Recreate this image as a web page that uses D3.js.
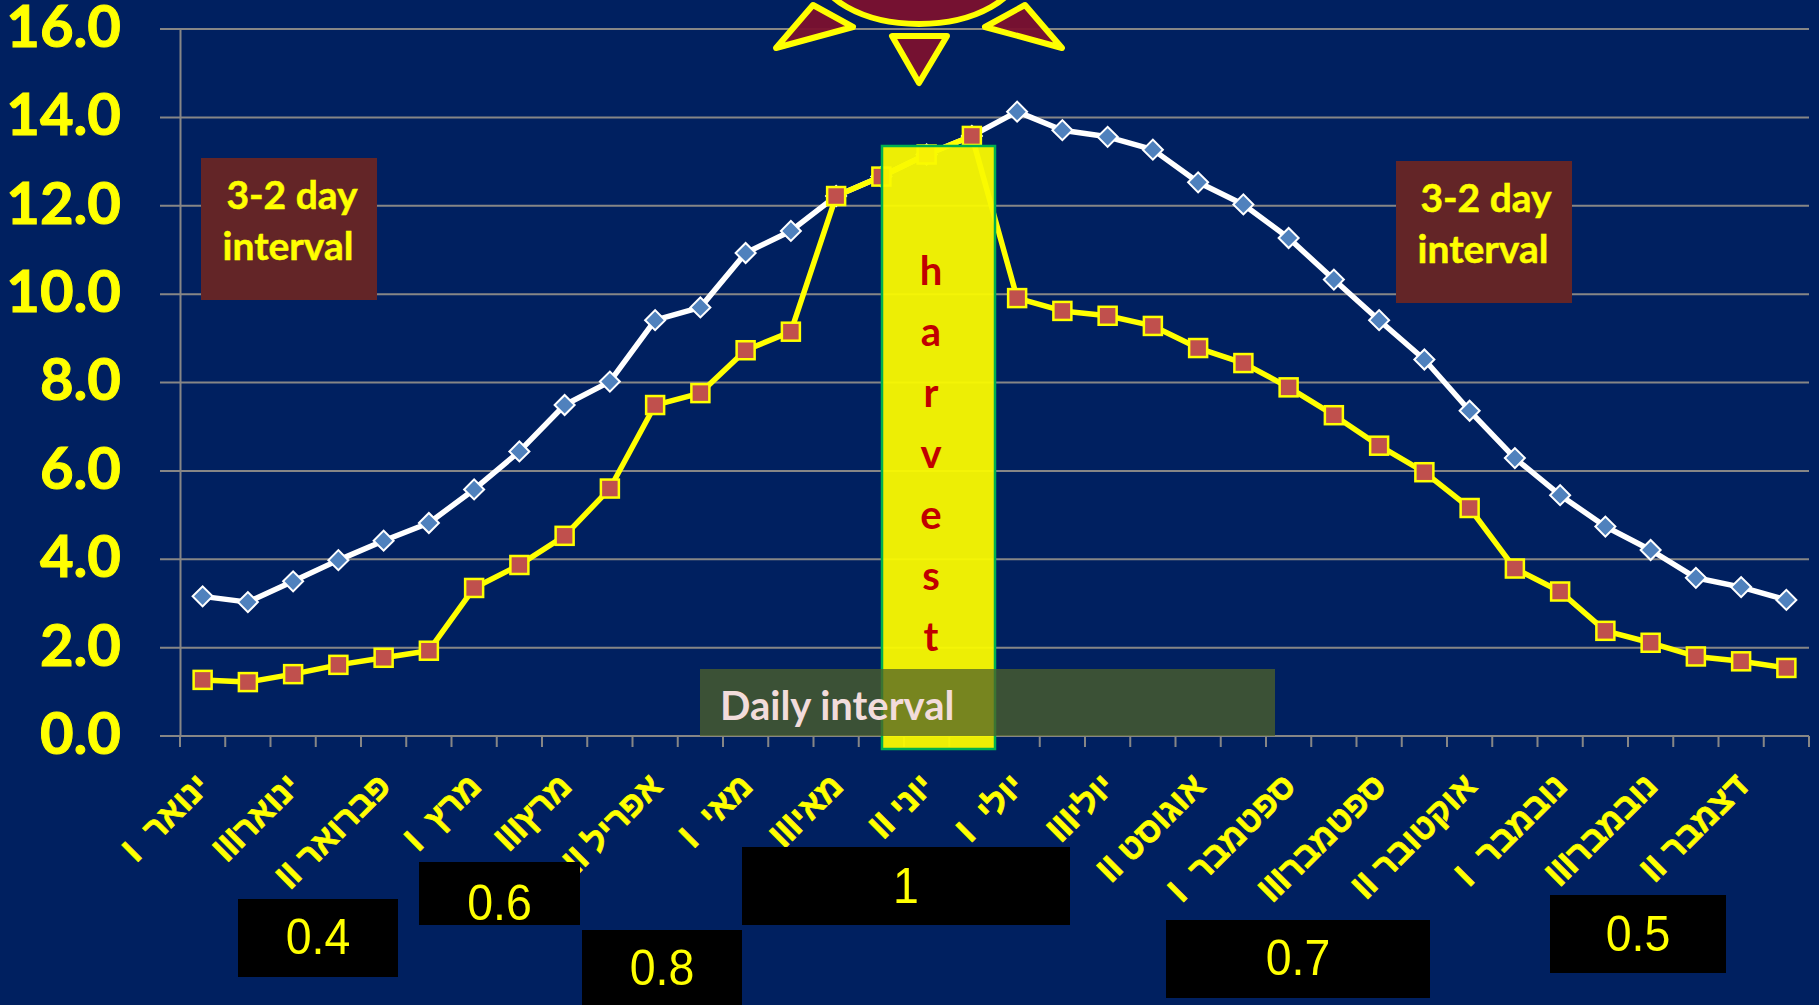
<!DOCTYPE html>
<html><head><meta charset="utf-8">
<script src="https://cdn.jsdelivr.net/npm/d3@7"></script>
<style>html,body{margin:0;padding:0;background:#002060;overflow:hidden}svg{display:block}</style>
</head><body><svg id="c" width="1819" height="1005"></svg>
<script>
const tickLabels = ["ינואר  I","ינוארIII","פברואר II","מרץ  I","מרץIII","אפריל II","מאי  I","מאיIII","יוני II","יולי  I","יוליIII","אוגוסט II","ספטמבר  I","ספטמברIII","אוקטובר II","נובמבר  I","נובמברIII","דצמבר II"];
const seriesWhite = [3.16,3.03,3.50,3.98,4.42,4.82,5.58,6.44,7.49,8.02,9.41,9.70,10.93,11.43,12.22,12.66,13.16,13.58,14.13,13.71,13.56,13.27,12.53,12.03,11.27,10.33,9.41,8.52,7.36,6.29,5.45,4.74,4.21,3.58,3.37,3.08];
const seriesYellow = [1.27,1.22,1.40,1.61,1.77,1.93,3.35,3.87,4.53,5.60,7.49,7.76,8.73,9.15,12.22,12.66,13.16,13.58,9.91,9.62,9.51,9.28,8.78,8.44,7.89,7.26,6.57,5.97,5.16,3.79,3.27,2.38,2.11,1.80,1.69,1.54];
const yTicks = [0,2,4,6,8,10,12,14,16];
const coefLabels = ["0.4","0.6","0.8","1","0.7","0.5"];
const harvestLetters = ["h","a","r","v","e","s","t"];

const coefLayout = [
  {x0:238,x1:398,y0:899,y1:977,off:16},
  {x0:419,x1:580,y0:862,y1:925,off:26},
  {x0:582,x1:742,y0:930,y1:1005,off:17},
  {x0:742,x1:1070,y0:847,y1:925,off:17},
  {x0:1166,x1:1430,y0:920,y1:998,off:16},
  {x0:1550,x1:1726,y0:895,y1:973,off:17}
];
const svg = d3.select("#c");
svg.append("rect").attr("width",1819).attr("height",1005).attr("fill","#002060");
const idx = seriesWhite.map((d,i)=>i);
const x = d3.scaleBand().domain(idx).range([180,1809]);
const y = d3.scaleLinear().domain([0,16]).range([736,29]);
const cx = i => x(i)+x.bandwidth()/2;
const GRID="#868686", YEL="#ffff00", SANS="Lato, 'Open Sans', sans-serif";

svg.append("g").selectAll("line").data(yTicks).join("line")
  .attr("x1",160).attr("x2",1809).attr("y1",d=>y(d)).attr("y2",d=>y(d))
  .attr("stroke",GRID).attr("stroke-width",2);
const yAxis = svg.append("g").attr("transform","translate(180,0)")
  .call(d3.axisLeft(y).tickValues(yTicks).tickSize(0).tickPadding(59).tickFormat(d3.format(".1f")));
yAxis.select(".domain").attr("stroke",GRID).attr("stroke-width",2);
yAxis.selectAll("text").attr("fill",YEL).attr("stroke",YEL).attr("stroke-width",1)
  .attr("font-family",SANS).attr("font-weight",700).attr("font-size",58)
  .attr("dy","0.3em").attr("text-anchor","end");
svg.append("line").attr("x1",180).attr("x2",180).attr("y1",736).attr("y2",747).attr("stroke",GRID).attr("stroke-width",2);
svg.append("g").selectAll("line").data(idx).join("line")
  .attr("x1",d=>x(d)+x.bandwidth()).attr("x2",d=>x(d)+x.bandwidth())
  .attr("y1",736).attr("y2",747).attr("stroke",GRID).attr("stroke-width",2);
svg.append("g").selectAll("text").data(tickLabels).join("text")
  .attr("transform",(d,i)=>`translate(${cx(i*2)+9},${788}) rotate(-45)`)
  .attr("direction","rtl").attr("text-anchor","start").style("white-space","pre")
  .attr("fill",YEL).attr("stroke",YEL).attr("stroke-width",0.7)
  .attr("font-family","'Liberation Sans', sans-serif").attr("font-weight",700).attr("font-size",34)
  .text(d=>d);

const sun = svg.append("g").attr("fill","#7b112e").attr("fill-opacity",0.95).attr("stroke",YEL).attr("stroke-width",6).attr("stroke-linejoin","round");
sun.append("ellipse").attr("cx",919).attr("cy",-34).attr("rx",102).attr("ry",58);
[[[813,5],[853,27],[776,48]],[[1025,5],[985,27],[1062,48]],[[892,36],[947,36],[919,83]]].forEach(p=>
  sun.append("path").attr("d",d3.line()(p)+"Z"));

function series(vals,stroke){
  svg.append("path").datum(vals)
    .attr("d",d3.line().x((d,i)=>cx(i)).y(d=>y(d)))
    .attr("fill","none").attr("stroke",stroke).attr("stroke-width",5.5).attr("stroke-linejoin","round");
}
series(seriesWhite,"#ffffff");
svg.append("g").selectAll("path").data(seriesWhite).join("path")
  .attr("d",d3.symbol(d3.symbolSquare,200))
  .attr("transform",(d,i)=>`translate(${cx(i)},${y(d)}) rotate(45)`)
  .attr("fill","#4f81bd").attr("stroke","#ffffff").attr("stroke-width",2);
series(seriesYellow,YEL);
svg.append("g").selectAll("rect").data(seriesYellow).join("rect")
  .attr("x",(d,i)=>cx(i)-9).attr("y",d=>y(d)-9).attr("width",18).attr("height",18)
  .attr("fill","#c0504d").attr("stroke",YEL).attr("stroke-width",2.5);

[[201,158,292,288],[1396,161,1486,1483]].forEach(([bx,by,t1,t2])=>{
  svg.append("rect").attr("x",bx).attr("y",by).attr("width",176).attr("height",142).attr("fill","#632527");
  const g=svg.append("g").attr("fill",YEL).attr("stroke",YEL).attr("stroke-width",0.5).attr("font-family",SANS).attr("font-weight",700).attr("font-size",39).attr("text-anchor","middle");
  g.append("text").attr("x",t1).attr("y",by+51).text("3-2 day");
  g.append("text").attr("x",t2).attr("y",by+102).text("interval");
});

svg.append("rect").attr("x",882).attr("y",146).attr("width",113).attr("height",603)
  .attr("fill","#fafa00").attr("fill-opacity",0.95).attr("stroke","#00b050").attr("stroke-width",2.5);
svg.append("g").selectAll("text").data(harvestLetters).join("text")
  .attr("x",931).attr("y",(d,i)=>285+i*61)
  .attr("text-anchor","middle").attr("fill","#c00000").attr("font-family",SANS).attr("font-weight",700).attr("font-size",40)
  .text(d=>d);

svg.append("rect").attr("x",700).attr("y",669).attr("width",575).attr("height",67).attr("fill","#4f6228").attr("fill-opacity",0.75);
svg.append("text").attr("x",720).attr("y",720).attr("fill","#f2dcdb").attr("font-family",SANS).attr("font-weight",700).attr("font-size",40).text("Daily interval");

const cb = svg.append("g").selectAll("g").data(coefLabels).join("g");
cb.append("rect").attr("x",(d,i)=>coefLayout[i].x0).attr("y",(d,i)=>coefLayout[i].y0)
  .attr("width",(d,i)=>coefLayout[i].x1-coefLayout[i].x0).attr("height",(d,i)=>coefLayout[i].y1-coefLayout[i].y0).attr("fill","#000");
cb.append("text")
  .attr("transform",(d,i)=>{const b=coefLayout[i];return `translate(${(b.x0+b.x1)/2},${(b.y0+b.y1)/2+b.off}) scale(0.93,1)`;})
  .attr("text-anchor","middle").attr("fill",YEL).attr("font-family","'Liberation Sans', sans-serif").attr("font-size",50).text(d=>d);
</script></body></html>
